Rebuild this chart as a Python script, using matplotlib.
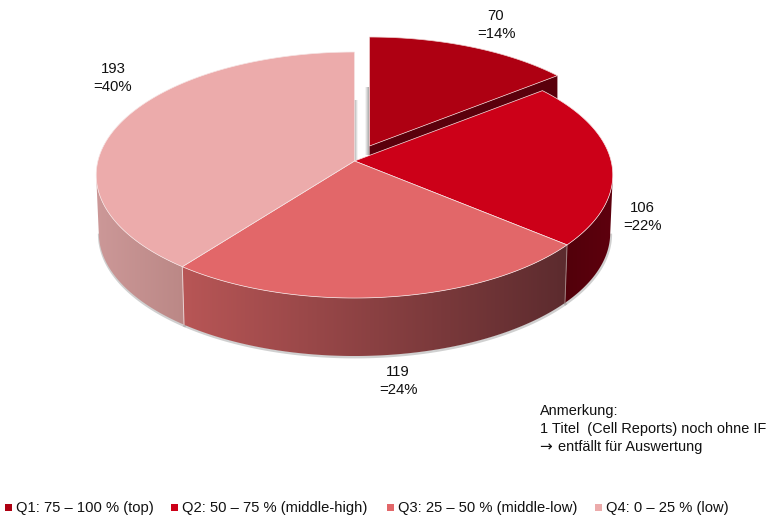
import numpy as np
import matplotlib
matplotlib.use("Agg")
import matplotlib.pyplot as plt
from matplotlib.colors import LinearSegmentedColormap
from matplotlib.patches import Polygon, Rectangle

plt.rcParams['font.family'] = ['Liberation Sans', 'DejaVu Sans']

# values
categories = ["Q1: 75 – 100 % (top)", "Q2: 50 – 75 % (middle-high)",
              "Q3: 25 – 50 % (middle-low)", "Q4: 0 – 25 % (low)"]
counts = [70, 106, 119, 193]
note_lines = ["Anmerkung:", "1 Titel  (Cell Reports) noch ohne IF", "entfällt für Auswertung"]

top_colors = ["#ae0012", "#cc0018", "#e26769", "#ecabab"]
legend_x = [5, 171, 387, 595]
label_pos = [(496, 25), (642, 217), (398, 381), (113, 78)]

# projection of the tilted disc onto pixels
CX, CY = 354.5, 161
RX, RY = 256.6, 121.4
PERSP = 0.114
DEPTH = 58
LOW_SCALE = 0.99  # lower rim is a bit narrower
EXPLODE = (15, -15)


def project(angle_deg):
    a = np.radians(angle_deg)
    x, y = np.sin(a), np.cos(a)
    f = 1 + PERSP * y
    return np.column_stack([CX + RX * x / f, CY - RY * y / f])


def lower_rim(pts):
    low = pts + [0, DEPTH]
    low[:, 0] = CX + (low[:, 0] - CX) * LOW_SCALE
    return low


def gradient_fill(ax, verts, colors, zorder):
    # horizontal gradient clipped to a polygon
    verts = np.asarray(verts)
    cmap = LinearSegmentedColormap.from_list("side", colors)
    x0, x1 = verts[:, 0].min(), verts[:, 0].max()
    y0, y1 = verts[:, 1].min(), verts[:, 1].max()
    img = ax.imshow(np.linspace(0, 1, 256)[None, :], cmap=cmap, aspect="auto",
                    extent=(x0, x1, y1, y0), zorder=zorder, interpolation="bilinear")
    clip = Polygon(verts, closed=True, transform=ax.transData, fc="none", ec="none")
    ax.add_patch(clip)
    img.set_clip_path(clip)


fig = plt.figure(figsize=(7.72, 5.24), dpi=100)
ax = fig.add_axes([0, 0, 1, 1])

total = sum(counts)
edges = np.concatenate([[0], np.cumsum(counts)]) / total * 360

# soft grey inner walls in the gap around the pulled out slice
gradient_fill(ax, [(354, 100), (358, 100), (358, 160), (354, 160)], ["#a8a8a8", "#ffffff"], 1)
gradient_fill(ax, [(365, 87), (369, 87), (369, 155), (365, 155)], ["#ffffff", "#a8a8a8"], 1)

# outer walls, only the part facing the viewer
side_colors = {1: ["#52000a", "#5e000e"],
               2: ["#b85656", "#5c2b2e"],
               3: ["#cc9898", "#bb8886"]}
for i in (1, 3, 2):
    start, end = max(edges[i], 97), min(edges[i + 1], 263)
    arc = project(np.linspace(start, end, 120))
    low = lower_rim(arc)
    gradient_fill(ax, np.vstack([arc, low[::-1]]), side_colors[i], 2)
    # thin grey shadow along the rim
    ax.plot(low[:, 0] + 0.5, low[:, 1] + 1, color="#8a8a8a", lw=2, alpha=0.4, zorder=1.5)
    if i != 1:
        ax.plot([arc[0, 0], low[0, 0]], [arc[0, 1], low[0, 1]],
                color="#e8d0d0" if i == 3 else "#a08080", lw=0.7, zorder=3)

# cut wall of the pulled out slice, then the top faces
q1_arc = project(np.linspace(edges[0], edges[1], 80)) + EXPLODE
apex = np.array([[CX, CY]]) + EXPLODE
corner = q1_arc[-1:]
ax.add_patch(Polygon(np.vstack([apex, corner, corner + [0, DEPTH], apex + [0, DEPTH]]),
                     closed=True, fc="#5a000c", ec="none", zorder=4))
ax.add_patch(Polygon(np.vstack([apex, q1_arc]), closed=True, fc=top_colors[0],
                     ec="#f0d0d0", lw=0.5, zorder=5))

for i in (1, 2, 3):
    arc = project(np.linspace(edges[i], edges[i + 1], 160))
    ax.add_patch(Polygon(np.vstack([[[CX, CY]], arc]), closed=True, fc=top_colors[i],
                         ec="#f6e4e4", lw=0.5, zorder=5))

# data labels
for n, (x, y) in zip(counts, label_pos):
    ax.text(x, y, f"{n}\n={round(n / total * 100)}%", ha="center", va="center",
            fontsize=10.7, color="#111111", linespacing=1.35, zorder=6)

# note, the arrow comes from DejaVu because it is wider there
ax.text(540, 411, note_lines[0], ha="left", va="center", fontsize=10.45, color="#111111")
ax.text(540, 429, note_lines[1], ha="left", va="center", fontsize=10.45, color="#111111")
ax.text(539, 447, "→", ha="left", va="center", fontsize=11, family="DejaVu Sans",
        color="#111111")
ax.text(558, 447, note_lines[2], ha="left", va="center", fontsize=10.45, color="#111111")

# legend
for x, name, col in zip(legend_x, categories, top_colors):
    ax.add_patch(Rectangle((x, 504), 7, 7, fc=col, ec="none"))
    ax.text(x + 11, 508, name, ha="left", va="center", fontsize=10.6, color="#111111")

ax.set_xlim(0, 772)
ax.set_ylim(524, 0)
ax.axis("off")
fig.savefig("out.png", dpi=100, facecolor="white")
